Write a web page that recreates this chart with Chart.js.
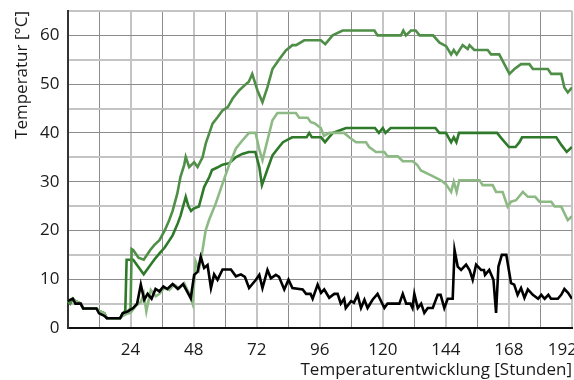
<!DOCTYPE html>
<html>
<head>
<meta charset="utf-8">
<script src="https://cdn.jsdelivr.net/npm/chart.js@4/dist/chart.umd.min.js"></script>
<style>
  html, body { margin: 0; padding: 0; background: #fff; }
  #wrap { width: 574px; height: 380px; }
</style>
</head>
<body>
<div id="wrap"><canvas id="c"></canvas></div>
<script>
'use strict';

// x axis: hours, y axis: temperature in °C
const X_MAX = 192;
const Y_MAX = 65;
const X_LABELS = [24, 48, 72, 96, 120, 144, 168, 192];
const Y_LABELS = [0, 10, 20, 30, 40, 50, 60];

// hours / temps per probe
const darkHours = [0, 1, 2, 3, 5, 6, 11, 12, 14, 15, 20, 21, 22, 22.5, 25, 27, 29, 31, 33, 35, 37, 40, 42, 43, 45, 46, 47, 48, 50, 52, 54, 55, 57, 59, 61.5, 63, 64, 66.5, 69, 71.5, 73, 74, 76, 78, 80.5, 82, 85.5, 91, 92, 93, 96.5, 98, 99.5, 101, 106, 117, 118.5, 120, 121, 123, 140, 141.5, 144, 146, 147, 148, 149, 163.5, 165, 168, 170.5, 172, 173, 186, 188, 190, 192];
const darkTemps = [5.5, 5, 6, 5.5, 5, 4, 4, 3.5, 3, 2, 2, 3, 3.5, 14, 14, 12.5, 11, 12.5, 14, 15.3, 16.5, 19, 21.5, 23, 26.9, 25, 24, 24.5, 24.9, 28.9, 31, 32.4, 32.9, 33.5, 33.8, 34.5, 35, 35.7, 36.1, 36.1, 33, 29.3, 32.4, 35.4, 37.1, 38.1, 39.1, 39.1, 40, 39.1, 39.1, 38.1, 39.1, 40, 41, 41, 40, 41, 40, 41, 41, 40, 40, 38.1, 39.1, 38.1, 40, 40, 39, 37.1, 37.1, 38.1, 39.1, 39.1, 37.5, 36.1, 37.1];

const midHours = [0, 1, 2, 3, 5, 6, 11, 12, 14, 15, 20, 21, 23, 24, 24.4, 25, 27, 29, 31.5, 33, 35, 37, 38.7, 40, 41.8, 43, 44.4, 45, 46.3, 48.2, 49.5, 51.4, 52.6, 54, 55.2, 57.1, 59, 61, 62.8, 65.3, 67.9, 69, 70.3, 72.3, 74.2, 76.1, 78, 80.6, 83.1, 85.6, 87, 90.1, 96.4, 98.1, 100.9, 104.7, 116.8, 118, 126.9, 127.8, 128.8, 130.7, 132.5, 134, 139.1, 141.6, 144.1, 146, 147, 148.1, 150.4, 152.3, 153, 154.8, 159.9, 161.2, 164.3, 168.2, 170.1, 172.6, 175.8, 177.1, 182.8, 184.1, 187.9, 189.1, 190.4, 192];
const midTemps = [5.5, 5, 6, 5.5, 5, 4, 4, 3.5, 3, 2, 2, 2.5, 3.5, 4, 16.2, 16, 14.4, 14, 16, 17, 18, 20, 22.1, 24, 27.6, 31, 33.4, 35.1, 33, 34, 33, 35, 37.8, 40, 41.9, 43.2, 44.6, 45.3, 47, 48.7, 50, 50.5, 52.1, 48.7, 46.3, 49.4, 53.1, 55.1, 56.9, 58, 58, 59, 59, 58.2, 60, 61, 61, 60, 60, 61, 60, 61, 61, 60, 60, 58.5, 57.8, 56.1, 57, 56.1, 58, 57.2, 58, 57, 57, 56.1, 56.1, 52.1, 53.1, 54.1, 54.1, 53.1, 53.1, 52.1, 52.1, 49.3, 48.3, 49.3];

const lightHours = [0, 2, 3, 5, 6, 11, 12, 14, 15, 20, 21, 23, 24, 26, 28, 29, 30, 31.7, 33.6, 35, 36.8, 38.7, 40.6, 42.5, 44.4, 46.3, 47.6, 48.8, 50, 51.4, 52.6, 53.9, 56.4, 59, 61.5, 64.1, 66.6, 69.1, 71.6, 72.9, 74.2, 76.1, 78, 79.9, 86.9, 88.2, 91.4, 92.6, 94, 96.4, 97.6, 99.6, 105.3, 107.2, 109.8, 113.6, 114.8, 117.4, 120.6, 121.8, 125.7, 127.6, 131.4, 133, 134.5, 138.4, 142.1, 144, 146, 147, 148.1, 149.1, 156.8, 158, 161.8, 163.1, 165.6, 167.5, 168.8, 170.7, 173.3, 175.2, 178, 179.6, 184.1, 185.4, 187.9, 190.4, 192];
const lightTemps = [5.5, 6, 5.5, 5, 4, 4, 3.5, 3, 2, 2, 2.5, 3, 3.1, 4.5, 5.4, 7, 3.4, 7.8, 6.5, 7, 8.2, 7.8, 8.9, 8.2, 9.2, 7.1, 5, 13.6, 12, 16, 20.1, 22.2, 25.5, 29.6, 33.4, 36.8, 38.5, 40, 40, 36.8, 34.4, 38.5, 42.6, 44.1, 44.1, 43.1, 43.1, 42.2, 42, 41, 39.4, 40, 40, 39.1, 38.1, 38.1, 37.1, 36.1, 36.1, 35.2, 35.2, 34.2, 34.2, 33.5, 32.3, 31.3, 30.3, 29.5, 27.9, 30, 27.9, 30.3, 30.3, 29.3, 29.3, 27.9, 27.9, 24.9, 25.9, 26.2, 27.9, 26.9, 26.9, 25.9, 25.9, 24.9, 24.9, 22.1, 22.9];

const blackHours = [0, 2, 3, 5, 6, 11, 12, 14, 15, 20, 21, 23, 25, 26.5, 27.9, 29.2, 30.5, 32, 33.5, 35, 36.5, 38, 40, 42, 44, 45.5, 46.9, 48.2, 49.5, 50.7, 52, 53.3, 54.6, 55.8, 57.1, 59, 62.2, 64.1, 66, 67.5, 69.1, 71.7, 73, 74.2, 76.1, 77.4, 79.3, 80.5, 82.5, 84.1, 85.6, 89.5, 90.8, 92.5, 93.3, 95.2, 96.5, 97.7, 99.6, 101.5, 102.8, 104, 105.3, 105.9, 107.9, 109, 110.4, 111.7, 113, 114.2, 116.1, 118, 120.6, 121.8, 126.3, 127.6, 128.9, 130.5, 131.3, 132, 133.3, 134.6, 135.8, 137.1, 139, 140.9, 142, 143.4, 144.7, 146.6, 147.3, 148.5, 149.8, 151.7, 153, 154.2, 155.5, 157.4, 158.5, 158.9, 160.5, 162.1, 163.1, 164, 165.3, 167, 168.8, 170, 171.3, 172.6, 173.9, 175.2, 177.1, 179.1, 180.3, 181.6, 183, 184, 186.6, 187.9, 189.1, 190.5, 192];
const blackTemps = [5.5, 6, 5, 5, 4, 4, 3, 2.5, 2, 2, 3, 3.4, 4.1, 5, 8.9, 5.8, 7, 6, 8, 7.5, 8.5, 8, 9, 8, 9, 7.5, 6.1, 10.9, 11.5, 14.6, 12.3, 12.9, 8.2, 11, 9.9, 12, 12, 10.6, 11, 10.5, 8.2, 9.9, 10.9, 8.2, 11.9, 10.2, 10.9, 10.5, 7.9, 9.9, 8.2, 7.9, 7, 7, 6, 8.9, 7.2, 7.9, 6.2, 7, 7, 5, 6, 4.1, 5.5, 5.2, 6.8, 4.1, 5.8, 4.1, 5.8, 7, 4.1, 5, 5, 7, 5, 5, 4.1, 7, 4.1, 5, 3.1, 4.1, 4.1, 6.8, 6.8, 4.1, 6, 6, 16, 12.6, 11.9, 13, 11.9, 9.9, 13, 11.9, 11.9, 10.9, 11.9, 9.9, 3.1, 12.6, 15, 15, 9.2, 8.9, 6.8, 8.2, 6.2, 7.9, 6.8, 6, 6.8, 6, 6.8, 6, 6, 6.8, 8, 7.2, 6];

const FONT = { family: "'Open Sans', 'Noto Sans', sans-serif", size: 17 };

function pts(hours, temps) {
  return hours.map((h, i) => ({ x: h, y: temps[i] }));
}

function line(label, hours, temps, color) {
  return {
    label,
    data: pts(hours, temps),
    borderColor: color,
    backgroundColor: color,
    borderWidth: 2.6,
    pointRadius: 0,
    tension: 0,
    fill: false,
  };
}

new Chart(document.getElementById('c'), {
  type: 'line',
  data: {
    datasets: [
      line('Schwarz', blackHours, blackTemps, '#000000'),
      line('Hell', lightHours, lightTemps, '#8dba84'),
      line('Mittel', midHours, midTemps, '#4f8e47'),
      line('Dunkel', darkHours, darkTemps, '#2f7a2a'),
    ],
  },
  options: {
    responsive: true,
    maintainAspectRatio: false,
    animation: false,
    layout: { padding: { top: 0, right: 2, left: 12, bottom: 0 } },
    plugins: { legend: { display: false }, tooltip: { enabled: false } },
    scales: {
      x: {
        type: 'linear',
        min: 0,
        max: X_MAX,
        // fixed axis band; no extra room for the edge labels
        afterFit: (s) => { s.paddingRight = 0; s.paddingLeft = 0; s.height = 52; },
        afterBuildTicks: (s) => {
          const t = [];
          for (let v = 0; v <= X_MAX; v += 12) t.push({ value: v });
          s.ticks = t;
        },
        ticks: {
          autoSkip: false,
          maxRotation: 0,
          color: '#1a1a1a',
          font: FONT,
          padding: 12,
          // last label pushed left so it stays inside the canvas
          callback: (v) => (X_LABELS.includes(v) ? (v === X_MAX ? v + '\u2007\u2007' : String(v)) : ''),
        },
        grid: {
          drawTicks: false,
          color: (ctx) => (ctx.tick && ctx.tick.value % 24 === 0 ? '#c4c4c4' : '#8c8c8c'),
          lineWidth: (ctx) => (ctx.tick && ctx.tick.value % 24 === 0 ? 2 : 1),
        },
        border: { color: '#111', width: 2 },
        title: {
          display: true,
          text: 'Temperaturentwicklung [Stunden]',
          align: 'end',
          color: '#1a1a1a',
          font: FONT,
          padding: { top: 0, bottom: 0 },
        },
      },
      y: {
        min: 0,
        max: Y_MAX,
        afterFit: (s) => { s.paddingTop = 11; s.width = 55.5; },
        afterBuildTicks: (s) => {
          const t = [];
          for (let v = 0; v <= Y_MAX; v += 5) t.push({ value: v });
          s.ticks = t;
        },
        ticks: {
          autoSkip: false,
          color: '#1a1a1a',
          font: FONT,
          padding: 8,
          callback: (v) => (Y_LABELS.includes(v) ? String(v) : ''),
        },
        grid: {
          drawTicks: false,
          color: (ctx) => (ctx.tick && ctx.tick.value % 10 === 0 ? '#8c8c8c' : '#c4c4c4'),
          lineWidth: (ctx) => (ctx.tick && ctx.tick.value % 10 === 0 ? 1 : 2),
        },
        border: { color: '#333', width: 2 },
        title: {
          display: true,
          text: 'Temperatur [°C]',
          align: 'end',
          color: '#1a1a1a',
          font: FONT,
          padding: { top: 0, bottom: 6 },
        },
      },
    },
  },
});
</script>
</body>
</html>
